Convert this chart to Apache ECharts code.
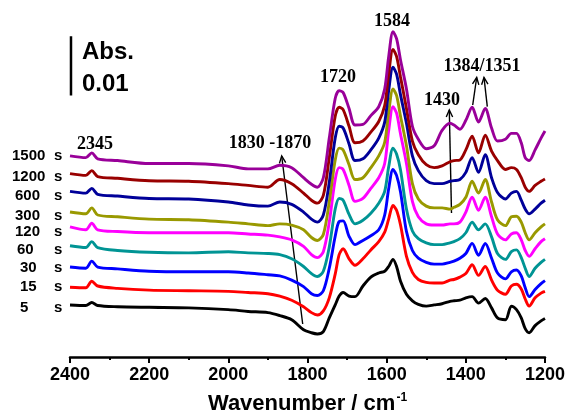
<!DOCTYPE html>
<html>
<head>
<meta charset="utf-8">
<title>IR spectra</title>
<script src="https://cdn.jsdelivr.net/npm/echarts@6/dist/echarts.min.js"></script>
<style>
  html, body { margin: 0; padding: 0; background: #fff; }
  #chart { width: 569px; height: 420px; }
</style>
</head>
<body>
<div id="chart"></div>
<script>
  // wavenumbers (cm-1)
  var wavenumbers = [2400, 2360, 2345, 2330, 2280, 2200, 2100, 2000, 1950, 1900,
    1870, 1840, 1810, 1790, 1775, 1760, 1745, 1730, 1720, 1710,
    1695, 1680, 1660, 1640, 1620, 1605, 1595, 1584, 1575, 1565,
    1550, 1535, 1520, 1500, 1480, 1460, 1440, 1430, 1415, 1400,
    1384, 1368, 1351, 1335, 1320, 1300, 1285, 1272, 1260, 1250,
    1240, 1225, 1210, 1200]

  // exposure times, bottom to top
  var times = ['5', '15', '30', '60', '120', '300', '600', '1200', '1500']
  var colors = ['#000000', '#ff0000', '#0000ff', '#009494', '#ff00ff', '#999900', '#000099', '#990000', '#990099']

  // vertical offset of each trace (mAbs)
  var offsets = [8.8, 11.8, 15.2, 18.8, 22.0, 24.5, 28.0, 31.0, 34.0]

  // spectra (mAbs, relative to 2400 cm-1)
  var abs5 = [0, -0.1, 0.4, -0.1, -0.3, -0.4, -0.5, -0.8, -1.1, -1.3,
    -1.8, -2.5, -4.2, -4.7, -4.9, -4.5, -2.2, 0, 1.5, 2.1,
    1.5, 1.4, 3.2, 4.7, 5.4, 5.7, 6.5, 7.7, 6.5, 4.0,
    1.8, 0.7, 0.1, -0.2, 0, 0.2, 0.6, 0.7, 0.8, 1.2,
    1.4, 0.3, 1.1, -0.5, -2.2, -2.5, -0.2, -0.8, -2.2, -4.0,
    -4.7, -3.5, -2.7, -2.3]
  var abs15 = [0, -0.1, 1.0, 0.2, -0.2, -0.5, -0.6, -0.7, -0.9, -1.1,
    -1.5, -2.2, -3.3, -4.3, -4.7, -4.0, -1.8, 2.2, 5.5, 6.5,
    4.8, 3.7, 4.8, 6.3, 7.7, 9.3, 11.5, 13.8, 13.0, 10.5,
    5.2, 2.5, 1.3, 0.8, 0.7, 0.7, 1.2, 1.3, 1.7, 2.3,
    3.8, 2.0, 3.5, 1.2, -0.5, -1.2, 0.2, 0.5, -0.3, -2.0,
    -3.2, -1.8, -1.0, -0.7]
  var abs30 = [0, -0.2, 1.0, 0, -0.3, -0.7, -0.8, -0.8, -1.0, -1.3,
    -1.5, -2.2, -3.3, -4.5, -4.8, -4.0, -0.2, 5.2, 7.7, 7.8,
    5.2, 3.8, 4.5, 5.3, 6.3, 8.8, 13.2, 16.5, 15.5, 12.7,
    6.0, 2.8, 1.5, 0.8, 0.5, 0.5, 0.8, 1.0, 1.5, 2.3,
    4.0, 2.0, 4.0, 1.5, -1.0, -2.0, -0.8, -0.5, -1.5, -3.5,
    -5.0, -3.8, -2.8, -2.3]
  var abs60 = [0, -0.3, 0.7, -0.3, -0.8, -1.1, -1.2, -1.0, -1.2, -1.3,
    -1.5, -2.2, -3.5, -4.7, -5.2, -4.3, -0.2, 6.2, 8.0, 7.7,
    5.3, 3.7, 4.3, 5.5, 7.2, 9.2, 13.3, 16.5, 15.5, 12.8,
    6.2, 2.5, 1.2, 0.5, 0.2, 0.2, 0.5, 0.7, 1.2, 2.2,
    4.0, 2.7, 3.7, 1.5, -1.3, -2.3, -1.0, -0.7, -2.0, -3.8,
    -5.2, -3.8, -2.8, -2.3]
  var abs120 = [0, -0.5, 0.6, -0.5, -0.8, -1.0, -1.0, -1.0, -1.2, -1.4,
    -1.7, -2.2, -3.3, -4.7, -5.2, -4.2, 0.8, 8.0, 10.0, 9.7,
    7.0, 4.3, 4.8, 6.5, 8.3, 10.7, 16.2, 20.3, 19.2, 15.7,
    10.7, 4.3, 1.7, 0.5, 0.3, 0.3, 0.5, 0.5, 0.8, 2.5,
    5.0, 2.8, 5.0, 1.7, -1.2, -2.2, -1.2, -1.0, -2.2, -4.0,
    -5.0, -3.7, -2.5, -2.0]
  var abs300 = [0, -0.3, 0.7, -0.5, -0.8, -1.2, -1.3, -1.7, -2.0, -2.3,
    -2.0, -2.2, -3.0, -4.3, -4.8, -3.8, 1.7, 8.8, 10.8, 10.5,
    8.0, 5.5, 5.8, 7.5, 9.5, 11.8, 16.8, 20.8, 19.7, 16.2,
    11.2, 4.8, 2.2, 1.0, 0.7, 0.7, 0.5, 0.8, 1.3, 2.5,
    5.2, 3.2, 5.5, 1.7, -1.3, -2.3, -0.8, -0.7, -1.7, -3.5,
    -4.7, -3.5, -2.5, -2.0]
  var abs600 = [0, -0.3, 0.5, -0.5, -0.8, -1.2, -1.3, -1.8, -2.3, -2.5,
    -1.8, -2.2, -3.5, -4.7, -5.2, -4.0, 1.5, 9.0, 11.0, 10.7,
    8.0, 5.2, 5.5, 7.0, 9.0, 11.7, 17.0, 21.0, 19.8, 16.3,
    11.5, 6.0, 3.5, 1.8, 1.3, 1.3, 1.7, 1.8, 2.0, 3.2,
    5.7, 3.2, 6.2, 2.3, -0.2, -1.3, -0.3, 0, -1.5, -3.0,
    -3.8, -3.0, -2.0, -1.5]
  var abs1200 = [0, -0.3, 0.5, -0.5, -0.8, -1.2, -1.3, -1.7, -2.0, -2.3,
    -1.0, -1.7, -3.3, -4.5, -5.0, -3.7, 2.7, 9.7, 11.2, 10.8,
    8.0, 5.2, 5.5, 7.0, 8.8, 11.5, 16.8, 21.0, 19.8, 16.3,
    11.0, 5.5, 3.2, 1.5, 1.0, 1.3, 2.0, 2.2, 2.3, 4.0,
    6.3, 3.5, 6.5, 3.8, 2.2, 0.7, 1.0, 0.7, -0.7, -2.3,
    -3.0, -2.0, -1.3, -0.9]
  var abs1500 = [0, -0.3, 0.5, -0.5, -0.8, -1.3, -1.3, -1.7, -2.2, -2.2,
    -1.6, -2.0, -3.7, -4.8, -5.3, -3.7, 3.0, 9.7, 11.0, 10.7,
    8.0, 5.2, 5.3, 6.8, 8.3, 11.3, 16.7, 21.0, 19.8, 16.2,
    11.3, 5.0, 2.8, 1.2, 1.7, 4.3, 5.5, 5.2, 4.5, 6.0,
    8.2, 5.7, 8.0, 4.7, 2.5, 2.8, 3.8, 3.8, 2.2, -0.3,
    -0.8, 1.0, 3.0, 4.2]
  var spectra = [abs5, abs15, abs30, abs60, abs120, abs300, abs600, abs1200, abs1500]

  // scale bar: 0.01 Abs = 10 mAbs
  var scaleBarX = 2397.5
  var scaleBarBottom = 44.2
  var scaleBarSize = 10

  var myChart = echarts.init(document.getElementById('chart'))

  var series = []
  for (var i = 0; i < spectra.length; i++) {
    var points = []
    for (var k = 0; k < wavenumbers.length; k++) {
      points.push([wavenumbers[k], spectra[i][k] + offsets[i]])
    }
    series.push({
      name: times[i] + ' s',
      type: 'line',
      data: points,
      smooth: 0.3,
      symbol: 'none',
      silent: true,
      lineStyle: {color: colors[i], width: 2.9}
    })
  }
  //标尺
  series.push({
    type: 'line',
    data: [[scaleBarX, scaleBarBottom], [scaleBarX, scaleBarBottom + scaleBarSize]],
    symbol: 'none',
    silent: true,
    lineStyle: {color: '#000', width: 2.5}
  })

  var serif = 'bold 18px "Times New Roman", "Liberation Serif", serif'
  var sans = 'Arial, "Liberation Sans", sans-serif'

  function text (str, x, y, font, align) {
    return {
      type: 'text',
      x: x, y: y,
      style: {
        text: str, font: font, fill: '#000',
        textAlign: align || 'center', textVerticalAlign: 'middle',
        align: align || 'center', verticalAlign: 'middle'
      }
    }
  }

  function arrow (x1, y1, x2, y2) {
    var dx = x2 - x1, dy = y2 - y1
    var len = Math.sqrt(dx * dx + dy * dy)
    var ux = dx / len, uy = dy / len
    var hl = 7, hw = 3.2
    var bx = x2 - ux * hl, by = y2 - uy * hl
    return [
      {type: 'line', shape: {x1: x1, y1: y1, x2: x2, y2: y2}, style: {stroke: '#000', lineWidth: 1.4}},
      {type: 'polyline', shape: {points: [[bx - uy * hw, by + ux * hw], [x2, y2], [bx + uy * hw, by - ux * hw]]},
        style: {stroke: '#000', lineWidth: 1.4, fill: null}}
    ]
  }

  var graphics = []
  // time labels
  var labelY = [307.7, 286.7, 267.7, 250, 232, 216, 195.7, 176.7, 155.7]
  var labelX = [20, 20, 20, 17, 15, 15, 15, 12, 12]
  for (var j = 0; j < times.length; j++) {
    graphics.push(text(times[j], labelX[j], labelY[j], 'bold 15px ' + sans, 'left'))
    graphics.push(text('s', 54, labelY[j], 'bold 15px ' + sans, 'left'))
  }
  graphics.push(text('Abs.', 82, 52, 'bold 24px ' + sans, 'left'))
  graphics.push(text('0.01', 82, 84, 'bold 24px ' + sans, 'left'))

  graphics.push(text('2345', 95, 144, serif))
  graphics.push(text('1830 -1870', 270, 143, serif))
  graphics.push(text('1720', 338, 77, serif))
  graphics.push(text('1584', 392, 21, serif))
  graphics.push(text('1430', 442, 100, serif))
  graphics.push(text('1384/1351', 482, 66, serif))

  graphics = graphics.concat(arrow(302.7, 324, 281.7, 156))
  graphics = graphics.concat(arrow(451.5, 213, 449.3, 110))
  graphics = graphics.concat(arrow(472.7, 105, 476.7, 77.5))
  graphics = graphics.concat(arrow(487.3, 106.7, 484, 77.5))

  var option = {
    animation: false,
    backgroundColor: '#fff',
    grid: {left: 70, right: 24, top: 2, bottom: 58},
    xAxis: {
      type: 'value',
      min: 1200,
      max: 2400,
      interval: 200,
      inverse: true,
      name: '{a|Wavenumber / cm}{b|-1}',
      nameLocation: 'middle',
      nameGap: 35,
      nameTextStyle: {
        rich: {
          a: {fontSize: 22, fontWeight: 'bold', fontFamily: sans, color: '#000'},
          b: {fontSize: 12, fontWeight: 'bold', fontFamily: sans, color: '#000', verticalAlign: 'top', padding: [0, 0, 12, 1]}
        }
      },
      axisLine: {lineStyle: {color: '#000', width: 2.5}},
      axisTick: {inside: false, length: 6, lineStyle: {color: '#000', width: 2}},
      minorTick: {show: true, splitNumber: 2, length: 3, lineStyle: {color: '#000', width: 2}},
      splitLine: {show: false},
      axisLabel: {
        color: '#000', fontSize: 18, fontWeight: 'bold', fontFamily: sans, margin: 9,
        formatter: function (v) { return String(v) }
      }
    },
    yAxis: {
      type: 'value',
      min: 0,
      max: 60,
      show: false
    },
    series: series,
    graphic: graphics
  }
  myChart.setOption(option, true)
</script>
</body>
</html>
